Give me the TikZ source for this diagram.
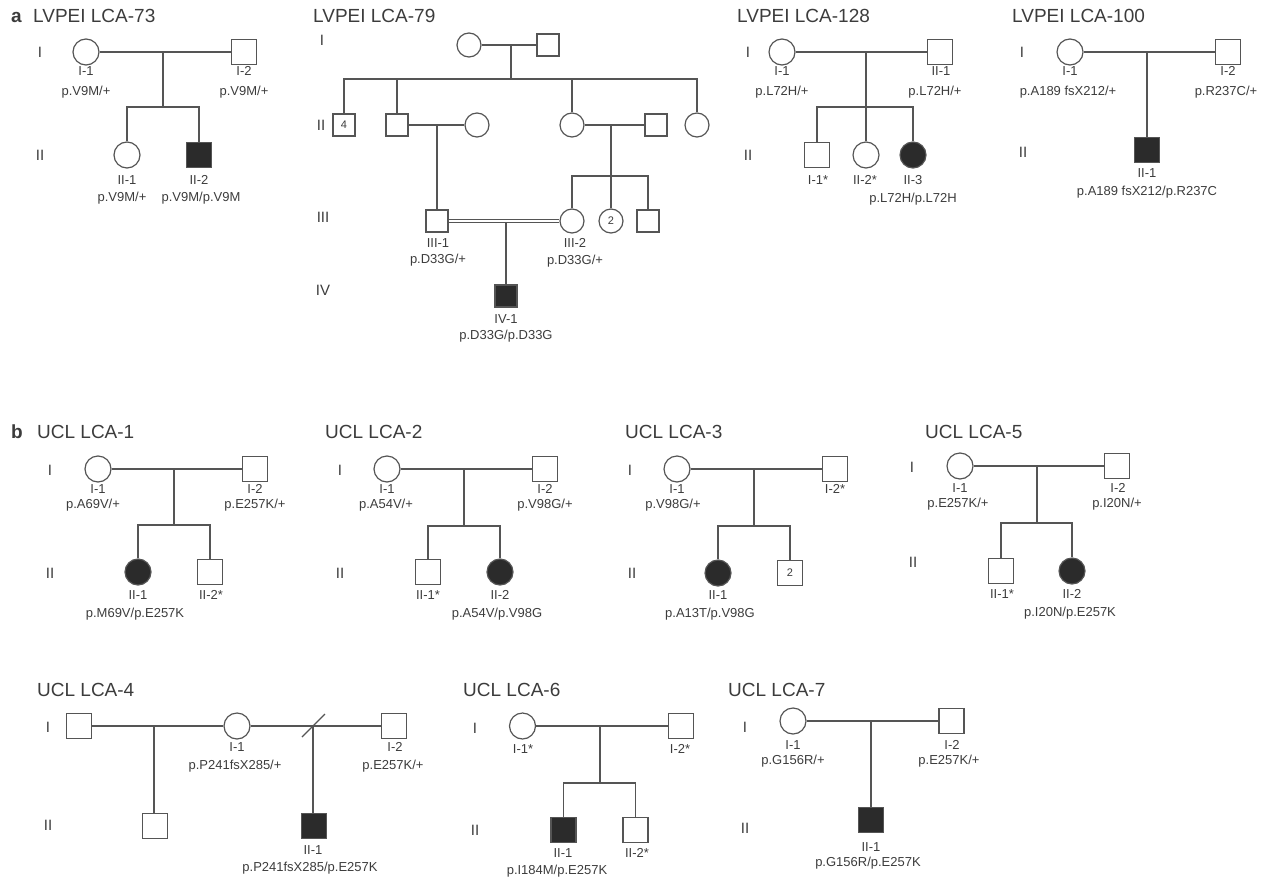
\documentclass[tikz,border=0pt]{standalone}
\usepackage{fontspec}
\setmainfont{Liberation Sans}
\definecolor{lc}{HTML}{555555}
\definecolor{tc}{HTML}{3C3C3C}
\definecolor{fc}{HTML}{2B2B2B}
\tikzset{
 ln/.style={draw=lc, line width=1.2pt},
 fem/.style={circle, draw=lc, line width=1.2pt, minimum size=26pt, inner sep=0pt, fill=white},
 mal/.style={rectangle, draw=lc, line width=1.2pt, minimum size=25pt, inner sep=0pt, fill=white},
 fems/.style={fem, minimum size=24pt},
 mals/.style={mal, minimum size=22pt},
 aff/.style={fill=fc},
 num/.style={font=\fontsize{11}{12}\selectfont, text=tc},
 lab/.style={font=\fontsize{13}{14}\selectfont, text=tc, inner sep=0pt, text height=9.3pt, text depth=0pt},
 gen/.style={font=\fontsize{15}{16}\selectfont, text=tc, inner sep=0pt, text height=10.7pt, text depth=0pt},
 ttl/.style={font=\fontsize{19}{20}\selectfont, text=tc, inner sep=0pt, text height=13.6pt, text depth=0pt, anchor=west},
 pan/.style={ttl, font=\fontsize{19}{20}\selectfont\bfseries},
}
\begin{document}
\begin{tikzpicture}[x=1pt,y=-1pt]
\useasboundingbox (0,0) rectangle (1265,878);

% ================= a: LVPEI LCA-73
\node[pan] (pa) at (11,16) {a};
\node[ttl] (t73) at (33,16) {LVPEI LCA-73};
\node[gen] (g73a) at (40,52) {I};
\node[gen] (g73b) at (40,155) {II};
\node[fem] (a73i1) at (86,52) {};
\node[mal] (a73i2) at (244,52) {};
\node[fem] (a73ii1) at (127,155) {};
\node[mal,aff] (a73ii2) at (199,155) {};
\coordinate (a73c) at (163,52);
\coordinate (a73s) at (163,107);
\draw[ln] (a73i1) -- (a73i2);
\draw[ln] (a73c) -- (a73s);
\draw[ln] (a73ii1) |- (a73s) -| (a73ii2);
\node[lab] (a73l1) at (86,71) {I-1};
\node[lab] (a73l2) at (86,91) {p.V9M/+};
\node[lab] (a73l3) at (244,71) {I-2};
\node[lab] (a73l4) at (244,91) {p.V9M/+};
\node[lab] (a73l5) at (127,180) {II-1};
\node[lab] (a73l6) at (122,197) {p.V9M/+};
\node[lab] (a73l7) at (199,180) {II-2};
\node[lab] (a73l8) at (201,197) {p.V9M/p.V9M};

% ================= LVPEI LCA-79
\node[ttl] (t79) at (313,16) {LVPEI LCA-79};
\node[gen] (g79a) at (322,40) {I};
\node[gen] (g79b) at (321,125) {II};
\node[gen] (g79c) at (323,217) {III};
\node[gen] (g79d) at (323,290) {IV};
\node[fems] (b79i1) at (469,45) {};
\node[mals] (b79i2) at (548,45) {};
\coordinate (b79c) at (511,45);
\coordinate (b79s) at (511,79);
\node[mals,num] (b79ii1) at (344,125) {4};
\node[mals] (b79ii2) at (397,125) {};
\node[fems] (b79ii3) at (477,125) {};
\node[fems] (b79ii5) at (572,125) {};
\node[mals] (b79ii6) at (656,125) {};
\node[fems] (b79ii7) at (697,125) {};
\coordinate (b79m1) at (437,125);
\coordinate (b79m2) at (611,125);
\coordinate (b79s2) at (611,176);
\node[mals] (b79iii1) at (437,221) {};
\node[fems] (b79iii2) at (572,221) {};
\node[fems,num] (b79iii3) at (611,221) {2};
\node[mals] (b79iii4) at (648,221) {};
\coordinate (b79m3) at (506,223);
\node[mals,aff] (b79iv1) at (506,296) {};
\draw[ln] (b79i1) -- (b79i2);
\draw[ln] (b79c) -- (b79s);
\draw[ln] (b79ii1) |- (b79s) -| (b79ii7);
\draw[ln] (b79ii2) -- (b79ii2 |- b79s);
\draw[ln] (b79ii5) -- (b79ii5 |- b79s);
\draw[ln] (b79ii2) -- (b79ii3);
\draw[ln] (b79ii5) -- (b79ii6);
\draw[ln] (b79m1) -- (b79iii1);
\draw[ln] (b79m2) -- (b79iii3);
\draw[ln] (b79iii2) |- (b79s2) -| (b79iii4);
\draw[ln, double=white, double distance=2.4pt] (b79iii1) -- (b79iii2);
\draw[ln] (b79m3) -- (b79iv1);
\node[lab] (b79l1) at (438,243) {III-1};
\node[lab] (b79l2) at (438,259) {p.D33G/+};
\node[lab] (b79l3) at (575,243) {III-2};
\node[lab] (b79l4) at (575,260) {p.D33G/+};
\node[lab] (b79l5) at (506,319) {IV-1};
\node[lab] (b79l6) at (506,335) {p.D33G/p.D33G};

% ================= LVPEI LCA-128
\node[ttl] (t128) at (737,16) {LVPEI LCA-128};
\node[gen] (g128a) at (748,52) {I};
\node[gen] (g128b) at (748,155) {II};
\node[fem] (c128i1) at (782,52) {};
\node[mal] (c128i2) at (940,52) {};
\coordinate (c128c) at (866,52);
\coordinate (c128s) at (866,107);
\node[mal] (c128ii1) at (817,155) {};
\node[fem] (c128ii2) at (866,155) {};
\node[fem,aff] (c128ii3) at (913,155) {};
\draw[ln] (c128i1) -- (c128i2);
\draw[ln] (c128c) -- (c128ii2);
\draw[ln] (c128ii1) |- (c128s) -| (c128ii3);
\node[lab] (c128l1) at (782,71) {I-1};
\node[lab] (c128l2) at (782,91) {p.L72H/+};
\node[lab] (c128l3) at (941,71) {II-1};
\node[lab] (c128l4) at (935,91) {p.L72H/+};
\node[lab] (c128l5) at (818,180) {I-1*};
\node[lab] (c128l6) at (865,180) {II-2*};
\node[lab] (c128l7) at (913,180) {II-3};
\node[lab] (c128l8) at (913,198) {p.L72H/p.L72H};

% ================= LVPEI LCA-100
\node[ttl] (t100) at (1012,16) {LVPEI LCA-100};
\node[gen] (g100a) at (1022,52) {I};
\node[gen] (g100b) at (1023,152) {II};
\node[fem] (d100i1) at (1070,52) {};
\node[mal] (d100i2) at (1228,52) {};
\coordinate (d100c) at (1147,52);
\node[mal,aff] (d100ii1) at (1147,150) {};
\draw[ln] (d100i1) -- (d100i2);
\draw[ln] (d100c) -- (d100ii1);
\node[lab] (d100l1) at (1070,71) {I-1};
\node[lab] (d100l2) at (1068,91) {p.A189 fsX212/+};
\node[lab] (d100l3) at (1228,71) {I-2};
\node[lab] (d100l4) at (1226,91) {p.R237C/+};
\node[lab] (d100l5) at (1147,173) {II-1};
\node[lab] (d100l6) at (1147,191) {p.A189 fsX212/p.R237C};

% ================= b: UCL LCA-1
\node[pan] (pb) at (11,432) {b};
\node[ttl] (u1t) at (37,432) {UCL LCA-1};
\node[gen] (u1ga) at (50,470) {I};
\node[gen] (u1gb) at (50,573) {II};
\node[fem] (u1i1) at (98,469) {};
\node[mal] (u1i2) at (255,469) {};
\coordinate (u1c) at (174,469);
\coordinate (u1s) at (174,525);
\node[fem,aff] (u1ii1) at (138,572) {};
\node[mal] (u1ii2) at (210,572) {};
\draw[ln] (u1i1) -- (u1i2);
\draw[ln] (u1c) -- (u1s);
\draw[ln] (u1ii1) |- (u1s) -| (u1ii2);
\node[lab] (u1l1) at (98,489) {I-1};
\node[lab] (u1l2) at (93,504) {p.A69V/+};
\node[lab] (u1l3) at (255,489) {I-2};
\node[lab] (u1l4) at (255,504) {p.E257K/+};
\node[lab] (u1l5) at (138,595) {II-1};
\node[lab] (u1l6) at (135,613) {p.M69V/p.E257K};
\node[lab] (u1l7) at (211,595) {II-2*};

% ================= UCL LCA-2
\node[ttl] (u2t) at (325,432) {UCL LCA-2};
\node[gen] (u2ga) at (340,470) {I};
\node[gen] (u2gb) at (340,573) {II};
\node[fem] (u2i1) at (387,469) {};
\node[mal] (u2i2) at (545,469) {};
\coordinate (u2c) at (464,469);
\coordinate (u2s) at (464,526);
\node[mal] (u2ii1) at (428,572) {};
\node[fem,aff] (u2ii2) at (500,572) {};
\draw[ln] (u2i1) -- (u2i2);
\draw[ln] (u2c) -- (u2s);
\draw[ln] (u2ii1) |- (u2s) -| (u2ii2);
\node[lab] (u2l1) at (387,489) {I-1};
\node[lab] (u2l2) at (386,504) {p.A54V/+};
\node[lab] (u2l3) at (545,489) {I-2};
\node[lab] (u2l4) at (545,504) {p.V98G/+};
\node[lab] (u2l5) at (428,595) {II-1*};
\node[lab] (u2l6) at (500,595) {II-2};
\node[lab] (u2l7) at (497,613) {p.A54V/p.V98G};

% ================= UCL LCA-3
\node[ttl] (u3t) at (625,432) {UCL LCA-3};
\node[gen] (u3ga) at (630,470) {I};
\node[gen] (u3gb) at (632,573) {II};
\node[fem] (u3i1) at (677,469) {};
\node[mal] (u3i2) at (835,469) {};
\coordinate (u3c) at (754,469);
\coordinate (u3s) at (754,526);
\node[fem,aff] (u3ii1) at (718,573) {};
\node[mal,num] (u3ii2) at (790,573) {2};
\draw[ln] (u3i1) -- (u3i2);
\draw[ln] (u3c) -- (u3s);
\draw[ln] (u3ii1) |- (u3s) -| (u3ii2);
\node[lab] (u3l1) at (677,489) {I-1};
\node[lab] (u3l2) at (673,504) {p.V98G/+};
\node[lab] (u3l3) at (835,489) {I-2*};
\node[lab] (u3l4) at (718,595) {II-1};
\node[lab] (u3l5) at (710,613) {p.A13T/p.V98G};

% ================= UCL LCA-5
\node[ttl] (u5t) at (925,432) {UCL LCA-5};
\node[gen] (u5ga) at (912,467) {I};
\node[gen] (u5gb) at (913,562) {II};
\node[fem] (u5i1) at (960,466) {};
\node[mal] (u5i2) at (1117,466) {};
\coordinate (u5c) at (1037,466);
\coordinate (u5s) at (1037,523);
\node[mal] (u5ii1) at (1001,571) {};
\node[fem,aff] (u5ii2) at (1072,571) {};
\draw[ln] (u5i1) -- (u5i2);
\draw[ln] (u5c) -- (u5s);
\draw[ln] (u5ii1) |- (u5s) -| (u5ii2);
\node[lab] (u5l1) at (960,488) {I-1};
\node[lab] (u5l2) at (958,503) {p.E257K/+};
\node[lab] (u5l3) at (1118,488) {I-2};
\node[lab] (u5l4) at (1117,503) {p.I20N/+};
\node[lab] (u5l5) at (1002,594) {II-1*};
\node[lab] (u5l6) at (1072,594) {II-2};
\node[lab] (u5l7) at (1070,612) {p.I20N/p.E257K};

% ================= UCL LCA-4
\node[ttl] (u4t) at (37,690) {UCL LCA-4};
\node[gen] (u4ga) at (48,727) {I};
\node[gen] (u4gb) at (48,825) {II};
\node[mal] (u4i0) at (79,726) {};
\node[fem] (u4i1) at (237,726) {};
\node[mal] (u4i2) at (394,726) {};
\coordinate (u4c1) at (154,726);
\coordinate (u4c2) at (313,726);
\node[mal] (u4ii0) at (155,826) {};
\node[mal,aff] (u4ii1) at (314,826) {};
\coordinate (u4sa) at (302,737);
\coordinate (u4sb) at (325,714);
\draw[ln] (u4i0) -- (u4i1);
\draw[ln] (u4i1) -- (u4i2);
\draw[ln] (u4c1) -- (u4c1 |- u4ii0.north);
\draw[ln] (u4c2) -- (u4c2 |- u4ii1.north);
\draw[ln] (u4sa) -- (u4sb);
\node[lab] (u4l1) at (237,747) {I-1};
\node[lab] (u4l2) at (235,765) {p.P241fsX285/+};
\node[lab] (u4l3) at (395,747) {I-2};
\node[lab] (u4l4) at (393,765) {p.E257K/+};
\node[lab] (u4l5) at (313,850) {II-1};
\node[lab] (u4l6) at (310,867) {p.P241fsX285/p.E257K};

% ================= UCL LCA-6
\node[ttl] (u6t) at (463,690) {UCL LCA-6};
\node[gen] (u6ga) at (475,728) {I};
\node[gen] (u6gb) at (475,830) {II};
\node[fem] (u6i1) at (522.5,726) {};
\node[mal] (u6i2) at (681,726) {};
\coordinate (u6c) at (600,726);
\coordinate (u6s) at (600,783);
\node[mal,aff] (u6ii1) at (563.5,830) {};
\node[mal] (u6ii2) at (635.5,830) {};
\draw[ln] (u6i1) -- (u6i2);
\draw[ln] (u6c) -- (u6s);
\draw[ln] (u6ii1) |- (u6s) -| (u6ii2);
\node[lab] (u6l1) at (523,749) {I-1*};
\node[lab] (u6l2) at (680,749) {I-2*};
\node[lab] (u6l3) at (563,853) {II-1};
\node[lab] (u6l4) at (557,870) {p.I184M/p.E257K};
\node[lab] (u6l5) at (637,853) {II-2*};

% ================= UCL LCA-7
\node[ttl] (u7t) at (728,690) {UCL LCA-7};
\node[gen] (u7ga) at (745,727) {I};
\node[gen] (u7gb) at (745,828) {II};
\node[fem] (u7i1) at (793,721) {};
\node[mal] (u7i2) at (951.5,721) {};
\coordinate (u7c) at (871,721);
\node[mal,aff] (u7ii1) at (871,820) {};
\draw[ln] (u7i1) -- (u7i2);
\draw[ln] (u7c) -- (u7ii1);
\node[lab] (u7l1) at (793,745) {I-1};
\node[lab] (u7l2) at (793,760) {p.G156R/+};
\node[lab] (u7l3) at (952,745) {I-2};
\node[lab] (u7l4) at (949,760) {p.E257K/+};
\node[lab] (u7l5) at (871,847) {II-1};
\node[lab] (u7l6) at (868,862) {p.G156R/p.E257K};
\end{tikzpicture}
\end{document}
